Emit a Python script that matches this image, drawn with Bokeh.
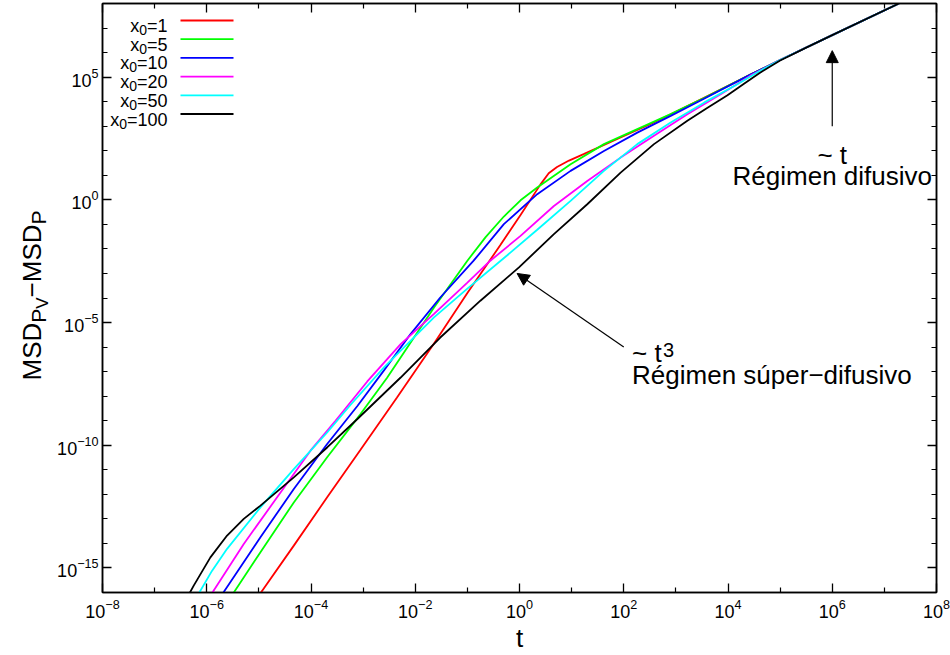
import numpy as np
from bokeh.plotting import figure
from bokeh.layouts import row
from bokeh.models import FixedTicker, LogAxis, Label, Arrow, NormalHead
from bokeh.embed import file_html
from bokeh.resources import INLINE

# ---------------- data (log10 values) ----------------
x0_labels = ["1", "5", "10", "20", "50", "100"]
colors = ["#ff0000", "#00ff00", "#0000ff", "#ff00ff", "#00ffff", "#000000"]

log_t_x0_1 = [-4.97, -4.33, -3.69, -3.05, -2.35, -1.64, -1.00, -0.37, 0.02, 0.40, 0.56, 0.72, 0.95, 1.23, 1.94, 2.58, 3.54, 4.43, 5.00, 6.00, 7.28]
log_msd_x0_1 = [-16.03, -14.09, -12.12, -10.18, -8.05, -5.85, -3.80, -1.85, -0.62, 0.62, 1.08, 1.34, 1.60, 1.86, 2.54, 3.15, 4.16, 5.10, 5.70, 6.71, 8.00]

log_t_x0_5 = [-5.49, -4.97, -4.33, -3.69, -3.05, -2.54, -1.64, -1.00, -0.65, -0.30, 0.02, 0.34, 0.98, 1.62, 2.26, 2.90, 3.54, 4.43, 5.00, 6.00, 7.28]
log_msd_x0_5 = [-16.03, -14.36, -12.33, -10.49, -8.73, -7.25, -4.39, -2.48, -1.52, -0.68, -0.02, 0.50, 1.45, 2.27, 2.88, 3.49, 4.15, 5.10, 5.70, 6.71, 8.00]

log_t_x0_10 = [-5.69, -4.97, -4.33, -3.69, -3.11, -2.60, -2.09, -1.52, -0.88, -0.30, 0.34, 0.98, 1.62, 2.26, 2.90, 3.54, 4.43, 5.00, 6.00, 7.28]
log_msd_x0_10 = [-16.03, -13.75, -11.78, -9.95, -8.40, -6.95, -5.47, -3.98, -2.48, -0.99, 0.23, 1.18, 1.99, 2.74, 3.42, 4.12, 5.10, 5.70, 6.71, 8.00]

log_t_x0_20 = [-5.90, -5.29, -4.65, -4.01, -3.53, -2.92, -2.28, -1.64, -1.00, -0.56, 0.02, 0.66, 1.30, 1.94, 2.58, 3.22, 3.86, 4.43, 5.00, 6.00, 7.28]
log_msd_x0_20 = [-16.03, -14.02, -12.12, -10.22, -9.00, -7.40, -5.88, -4.65, -3.37, -2.48, -1.47, -0.25, 0.77, 1.72, 2.61, 3.49, 4.30, 5.06, 5.70, 6.71, 8.00]

log_t_x0_50 = [-6.15, -5.90, -5.61, -4.97, -4.33, -3.69, -3.24, -2.60, -1.64, -1.00, -0.24, 0.34, 0.98, 1.62, 2.26, 2.90, 3.54, 4.18, 4.60, 5.00, 6.00, 7.28]
log_msd_x0_50 = [-16.03, -15.12, -14.22, -12.53, -10.97, -9.48, -8.35, -6.83, -4.79, -3.62, -2.27, -1.22, -0.04, 1.18, 2.27, 3.15, 3.96, 4.71, 5.24, 5.70, 6.71, 8.00]

log_t_x0_100 = [-6.33, -6.25, -5.93, -5.61, -5.29, -4.97, -4.33, -3.69, -3.11, -2.28, -1.52, -0.75, -0.01, 0.66, 1.30, 1.94, 2.58, 3.22, 3.60, 3.99, 4.30, 4.60, 5.00, 5.50, 6.00, 7.28]
log_msd_x0_100 = [-16.03, -15.72, -14.57, -13.68, -13.00, -12.46, -11.31, -10.09, -8.93, -7.24, -5.61, -4.11, -2.75, -1.40, -0.18, 1.11, 2.27, 3.22, 3.74, 4.26, 4.72, 5.16, 5.68, 6.20, 6.71, 8.00]

log_t_all = [log_t_x0_1, log_t_x0_5, log_t_x0_10, log_t_x0_20, log_t_x0_50, log_t_x0_100]
log_msd_all = [log_msd_x0_1, log_msd_x0_5, log_msd_x0_10, log_msd_x0_20, log_msd_x0_50, log_msd_x0_100]

x_major_ticks = [1e-8, 1e-6, 1e-4, 1e-2, 1e0, 1e2, 1e4, 1e6, 1e8]
x_minor_ticks = [1e-7, 1e-5, 1e-3, 1e-1, 1e1, 1e3, 1e5, 1e7]
y_major_ticks = [1e-15, 1e-10, 1e-5, 1e0, 1e5]
y_minor_ticks = [1e-16, 1e-14, 1e-13, 1e-12, 1e-11, 1e-9, 1e-8, 1e-7, 1e-6,
                 1e-4, 1e-3, 1e-2, 1e-1, 1e1, 1e2, 1e3, 1e4, 1e6, 1e7, 1e8]

# annotation anchor points (data space)
arrow_super_start = (1e2, 1e-6)
arrow_super_end = (0.9, 1e-3)
arrow_diff_start = (1e6, 1e3)
arrow_diff_end = (1e6, 1.2e6)

FONT = "Liberation Sans"
LABEL_W = 52
FRAME_BOTTOM = 592  # frames of both figures are aligned by the row layout

# ---------------- y-label strip (separate tiny figure) ----------------
lab = figure(width=LABEL_W, height=655, output_backend="svg", toolbar_location=None,
             x_range=(0, 1), y_range=(0, 1), x_axis_location=None, y_axis_location=None,
             min_border=0, min_border_left=0, min_border_right=0,
             min_border_top=0, min_border_bottom=0)
lab.grid.visible = False
lab.outline_line_color = None
lab.background_fill_color = "white"
lab.border_fill_color = "white"

ang = np.pi / 2
# (text, font px, baseline x, advance in em)
pieces = [("MSD", 26, 31, 2.222), ("P", 21, 37.5, 0.667), ("V", 17, 42, 0.667),
          ("\u2212MSD", 26, 31, 2.806), ("P", 21, 37.5, 0.667)]
pos = FRAME_BOTTOM - 380.0
for txt, size, xb, em in pieces:
    lab.add_layout(Label(x=xb, y=pos, x_units="screen", y_units="screen", text=txt,
                         angle=ang, text_font=FONT, text_font_size=f"{size}px",
                         text_align="left", text_baseline="alphabetic", text_color="black"))
    pos += em * size

# ---------------- main plot ----------------
p = figure(width=950 - LABEL_W, height=655, x_axis_type="log", y_axis_type="log",
           x_range=(1e-8, 1e8), y_range=(1e-16, 1e8),
           output_backend="svg", toolbar_location=None,
           min_border_left=102 - LABEL_W, min_border_right=14,
           min_border_top=3, min_border_bottom=63)
p.grid.visible = False
p.outline_line_color = "black"
p.outline_line_width = 1.5
p.background_fill_color = "white"
p.border_fill_color = "white"


def style_axis(ax, labels=True):
    ax.axis_line_color = "black"
    ax.axis_line_width = 1.5
    ax.major_tick_in = 9
    ax.major_tick_out = 0
    ax.minor_tick_in = 5
    ax.minor_tick_out = 0
    ax.major_tick_line_color = "black"
    ax.minor_tick_line_color = "black"
    ax.major_tick_line_width = 1.3
    ax.minor_tick_line_width = 1.2
    ax.major_label_text_font = FONT
    if labels:
        ax.major_label_text_color = "black"
        ax.major_label_text_font_size = "18px"
        ax.major_label_standoff = 4
    else:
        ax.major_label_text_color = None
        ax.major_label_text_font_size = "1px"
        ax.major_label_standoff = 0


p.xaxis.ticker = FixedTicker(ticks=x_major_ticks, minor_ticks=x_minor_ticks)
p.yaxis.ticker = FixedTicker(ticks=y_major_ticks, minor_ticks=y_minor_ticks)
style_axis(p.xaxis[0])
style_axis(p.yaxis[0])
p.xaxis.major_label_standoff = 6
p.xaxis.axis_label = "t"
p.xaxis.axis_label_text_font = FONT
p.xaxis.axis_label_text_font_size = "26px"
p.xaxis.axis_label_text_font_style = "normal"
p.xaxis.axis_label_text_color = "black"
p.xaxis.axis_label_standoff = 2

top_ax = LogAxis(ticker=FixedTicker(ticks=x_major_ticks, minor_ticks=x_minor_ticks))
right_ax = LogAxis(ticker=FixedTicker(ticks=y_major_ticks, minor_ticks=y_minor_ticks))
style_axis(top_ax, labels=False)
style_axis(right_ax, labels=False)
p.add_layout(top_ax, "above")
p.add_layout(right_ax, "right")

# curves
for lt, lm, c in zip(log_t_all, log_msd_all, colors):
    t = 10.0 ** np.array(lt)
    m = 10.0 ** np.array(lm)
    p.line(t, m, line_color=c, line_width=1.8)

# legend (manual, gnuplot style: text left, sample right)
row0_line = FRAME_BOTTOM - 20
row_gap = 18.7
fs = 18
for i, (lb, c) in enumerate(zip(x0_labels, colors)):
    y_line = row0_line - i * row_gap
    y_text = y_line - 5.5
    right = 65
    w_rest = fs * (0.584 + 0.556 * len(lb))
    p.add_layout(Label(x=right, y=y_text, x_units="screen", y_units="screen",
                       text="=" + lb, text_font=FONT, text_font_size=f"{fs}px",
                       text_align="right", text_baseline="alphabetic", text_color="black"))
    sub_right = right - w_rest
    p.add_layout(Label(x=sub_right, y=y_text - 4, x_units="screen", y_units="screen",
                       text="0", text_font=FONT, text_font_size="14px",
                       text_align="right", text_baseline="alphabetic", text_color="black"))
    p.add_layout(Label(x=sub_right - 14 * 0.556, y=y_text, x_units="screen", y_units="screen",
                       text="x", text_font=FONT, text_font_size=f"{fs}px",
                       text_align="right", text_baseline="alphabetic", text_color="black"))
    p.add_layout(Arrow(end=None, x_start=78, y_start=y_line, x_end=131, y_end=y_line,
                       start_units="screen", end_units="screen",
                       line_color=c, line_width=1.8))

# annotations
head1 = NormalHead(size=12, fill_color="black", line_color="black")
p.add_layout(Arrow(end=head1, x_start=arrow_super_start[0], y_start=arrow_super_start[1],
                   x_end=arrow_super_end[0], y_end=arrow_super_end[1],
                   line_color="black", line_width=1.2))
head2 = NormalHead(size=12, fill_color="black", line_color="black")
p.add_layout(Arrow(end=head2, x_start=arrow_diff_start[0], y_start=arrow_diff_start[1],
                   x_end=arrow_diff_end[0], y_end=arrow_diff_end[1],
                   line_color="black", line_width=1.2))

UP = 7
p.add_layout(Label(x=1e6, y=10 ** 1.55, y_offset=UP, text="~ t", text_font=FONT,
                   text_font_size="26px", text_align="center", text_baseline="alphabetic",
                   text_color="black"))
p.add_layout(Label(x=1e6, y=10 ** 0.69, y_offset=UP, text="Régimen difusivo", text_font=FONT,
                   text_font_size="26px", text_align="center", text_baseline="alphabetic",
                   text_color="black"))

p.add_layout(Label(x=10 ** 2.16, y=10 ** -6.47, y_offset=UP - 1, text="~ t", text_font=FONT,
                   text_font_size="26px", text_align="left", text_baseline="alphabetic",
                   text_color="black"))
p.add_layout(Label(x=10 ** 2.16, y=10 ** -6.47, x_offset=31, y_offset=UP + 2, text="3",
                   text_font=FONT, text_font_size="20px", text_align="left",
                   text_baseline="alphabetic", text_color="black"))
p.add_layout(Label(x=10 ** 2.16, y=10 ** -7.37, y_offset=UP - 1,
                   text="Régimen súper\u2212difusivo", text_font=FONT,
                   text_font_size="26px", text_align="left", text_baseline="alphabetic",
                   text_color="black"))

layout = row(lab, p, spacing=0)
open("out.html", "w").write(file_html(layout, INLINE))
